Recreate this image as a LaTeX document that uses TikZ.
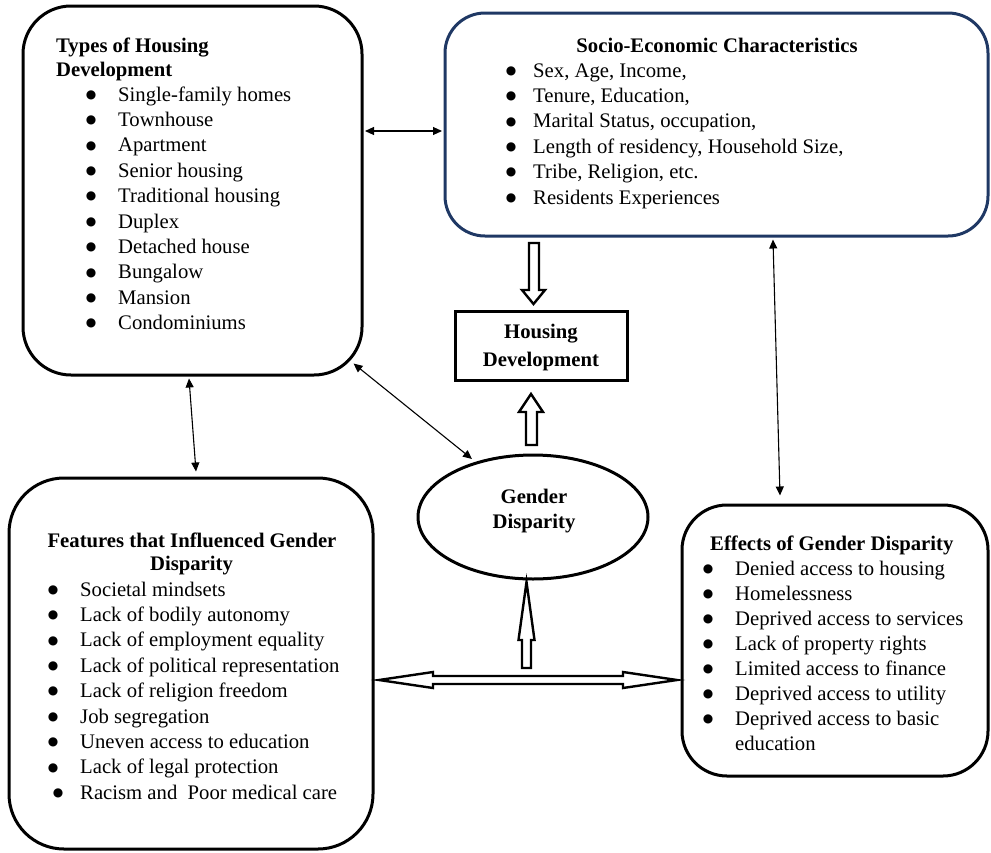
\documentclass[tikz,border=0pt]{standalone}
\usepackage{fontspec}
\setmainfont{Liberation Serif}
\newfontfamily\bulfont{DejaVu Sans}
\usetikzlibrary{arrows.meta,shapes.geometric,calc}
\definecolor{navy}{RGB}{31,56,100}
\newcommand\itemlist[6]{%
  \foreach \t [count=\i from 0] in {#6} {%
    \node[bul] (#1b\i) at (#2,{#4+\i*#5-2.7}) {●};
    \node[txt, anchor=base west] (#1t\i) at (#3,{#4+\i*#5}) {\t};
  }}
\begin{document}
\begin{tikzpicture}[x=1pt,y=-1pt,
  box/.style={draw, line width=3pt, rounded corners=#1, inner sep=0pt},
  txt/.style={inner sep=0pt, font=\fontsize{20.7}{25.4}\selectfont},
  hdr/.style={inner sep=0pt, font=\fontsize{20.7}{25.4}\selectfont\bfseries},
  bul/.style={inner sep=0pt, anchor=base, font=\bulfont\fontsize{12}{12}\selectfont},
  thinarr/.style={line width=1.1pt, {Triangle[length=9pt,width=8pt]}-{Triangle[length=9pt,width=8pt]}},
  hollow/.style={draw, line width=2.4pt, fill=white, line join=miter}]
\useasboundingbox (0,0) rectangle (991,852);

% boxes
\node[box=48pt, minimum width=339pt, minimum height=369pt] (tl) at (192.5,190.5) {};
\node[box=40pt, draw=navy, minimum width=543pt, minimum height=223pt] (tr) at (716.5,124.5) {};
\node[draw, line width=3pt, inner sep=0pt, minimum width=172pt, minimum height=69pt] (hd) at (541,345.5) {};
\node[box=55pt, minimum width=364pt, minimum height=371pt] (fe) at (191,663.5) {};
\node[box=45pt, minimum width=306pt, minimum height=271pt] (ef) at (835,640.5) {};
\node[draw, ellipse, line width=3pt, inner sep=0pt, minimum width=230pt, minimum height=124pt] (ge) at (533,517) {};

% texts: Types of Housing Development
\node[hdr, anchor=base west] (tlh1) at (56,52) {Types of Housing};
\node[hdr, anchor=base west] (tlh2) at (56,76) {Development};
\itemlist{a}{91}{118}{101}{25.4}{Single-family homes,Townhouse,Apartment,Senior housing,Traditional housing,Duplex,Detached house,Bungalow,Mansion,Condominiums}

% Socio-Economic
\node[hdr, anchor=base] (trh) at (717,52) {Socio-Economic Characteristics};
\itemlist{s}{511}{533}{77}{25.4}{{Sex, Age, Income,},{Tenure, Education,},{Marital Status, occupation,},{Length of residency, Household Size,},{Tribe, Religion, etc.},Residents Experiences}

% Housing Development
\node[hdr, anchor=base] (hdt1) at (541,338) {Housing};
\node[hdr, anchor=base] (hdt2) at (541,366) {Development};

% Gender Disparity
\node[hdr, anchor=base] (get1) at (534,503) {Gender};
\node[hdr, anchor=base] (get2) at (534,528) {Disparity};

% Features
\node[hdr, anchor=base] (feh1) at (192,547) {Features that Influenced Gender};
\node[hdr, anchor=base] (feh2) at (191.5,570) {Disparity};
\itemlist{f}{53}{80}{596}{25.4}{Societal mindsets,Lack of bodily autonomy,Lack of employment equality,Lack of political representation,Lack of religion freedom,Job segregation,Uneven access to education,Lack of legal protection}
\node[bul] (fb8) at (58,796.3) {●};
\node[txt, anchor=base west] (ft8) at (80,799) {Racism and\ \ Poor medical care};

% Effects
\node[hdr, anchor=base west] (efh) at (710,550) {Effects of Gender Disparity};
\itemlist{e}{708}{735}{575}{25}{Denied access to housing,Homelessness,Deprived access to services,Lack of property rights,Limited access to finance,Deprived access to utility,Deprived access to basic}
\node[txt, anchor=base west] (et7) at (735,750) {education};

% hollow block arrows
\draw[hollow] (529,243) -- (539,243) -- (539,290) -- (545,290) -- (533.5,304) -- (522,290) -- (529,290) -- cycle;
\draw[hollow] (526,445) -- (537,445) -- (537,412) -- (543,412) -- (531,394) -- (519,412) -- (526,412) -- cycle;
\draw[hollow] (522,668) -- (531,668) -- (531,640) -- (534.5,640) -- (526.5,582) -- (518.5,640) -- (522,640) -- cycle;
\draw[hollow] (379,680) -- (433,672) -- (433,676) -- (623,676) -- (623,672) -- (677,680) -- (623,688) -- (623,684) -- (433,684) -- (433,688) -- cycle;

% thin double arrows
\draw[thinarr] ([shift={(1.5,-59.5)}]tl.east) -- ([shift={(-1.5,6.5)}]tr.west);
\draw[thinarr] ([shift={(-3.5,2)}]tl.south) -- ([shift={(5,-5)}]fe.north);
\draw[thinarr] ([shift={(-10,-13)}]tl.south east) -- ([shift={(-61,-58)}]ge.center);
\draw[thinarr] ([shift={(56.5,2)}]tr.south) -- ([shift={(-55,-8)}]ef.north);
\end{tikzpicture}
\end{document}
